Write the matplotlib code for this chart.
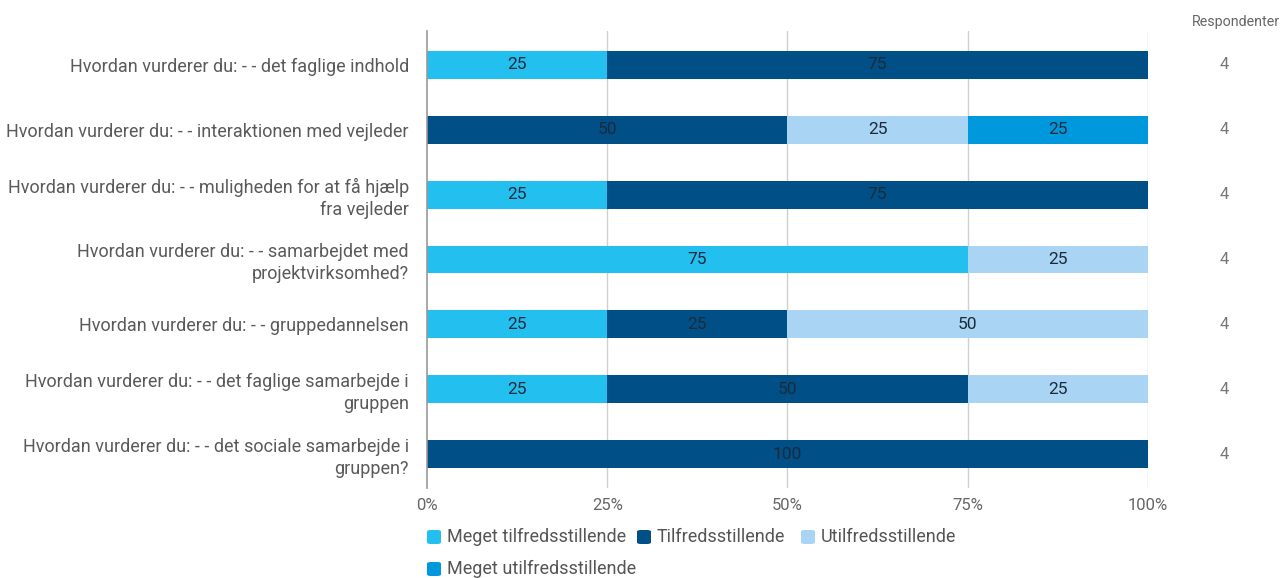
import matplotlib
matplotlib.use("Agg")
import matplotlib.pyplot as plt
from matplotlib.patches import FancyBboxPatch
import matplotlib.transforms as mtransforms
import numpy as np

plt.rcParams['font.family'] = ['Roboto', 'DejaVu Sans']

categories = [
    "Hvordan vurderer du: - - det faglige indhold",
    "Hvordan vurderer du: - - interaktionen med vejleder",
    "Hvordan vurderer du: - - muligheden for at få hjælp\nfra vejleder",
    "Hvordan vurderer du: - - samarbejdet med\nprojektvirksomhed?",
    "Hvordan vurderer du: - - gruppedannelsen",
    "Hvordan vurderer du: - - det faglige samarbejde i\ngruppen",
    "Hvordan vurderer du: - - det sociale samarbejde i\ngruppen?",
]
series_names = ["Meget tilfredsstillende", "Tilfredsstillende",
                "Utilfredsstillende", "Meget utilfredsstillende"]
meget_tilfreds = [25, 0, 25, 75, 25, 25, 0]
tilfreds = [75, 50, 75, 0, 25, 50, 100]
utilfreds = [0, 25, 0, 25, 50, 25, 0]
meget_utilfreds = [0, 25, 0, 0, 0, 0, 0]
respondents = [4, 4, 4, 4, 4, 4, 4]
xticks = [0, 25, 50, 75, 100]
xtick_labels = ["0%", "25%", "50%", "75%", "100%"]
colors = ["#22BFEF", "#004F86", "#A9D4F3", "#0098DC"]

W, H = 1282, 578
fig = plt.figure(figsize=(W / 100, H / 100), dpi=100)
ax = fig.add_axes([427 / W, 1 - 488 / H, (1148 - 427) / W, (488 - 31) / H])

series = [meget_tilfreds, tilfreds, utilfreds, meget_utilfreds]
y = np.arange(len(categories))
left = np.zeros(len(categories))
for vals, col, name in zip(series, colors, series_names):
    vals = np.array(vals, dtype=float)
    bars = ax.barh(y, vals, left=left, height=0.43, color=col, label=name, zorder=2)
    for b, v in zip(bars, vals):
        if v > 0:
            ax.text(b.get_x() + b.get_width() / 2, b.get_y() + b.get_height() / 2,
                    f"{int(v)}", ha="center", va="center", fontsize=12.5,
                    color="#1b2b3b", zorder=3)
    left += vals

ax.set_xlim(0, 100)
ax.set_ylim(len(categories) - 0.48, -0.52)
ax.set_xticks(xticks)
ax.set_xticklabels(xtick_labels, fontsize=12, color="#666666")
ax.set_yticks(y)
ax.set_yticklabels(categories, fontsize=13, color="#5a5a5a", linespacing=1.25)
ax.tick_params(axis="both", length=0)
ax.tick_params(axis="y", pad=13)
ax.tick_params(axis="x", pad=7)
for s in ["top", "right", "bottom"]:
    ax.spines[s].set_visible(False)
ax.spines["left"].set_color("#999999")
ax.spines["left"].set_linewidth(1.2)
ax.spines["left"].set_zorder(4)
for xv in xticks[1:]:
    ax.axvline(xv, color="#d0d0d0", linewidth=1, zorder=1)

# Respondenter column
trans = mtransforms.blended_transform_factory(fig.transFigure, ax.transData)
for yi, r in zip(y, respondents):
    ax.text(1224 / W, yi, str(r), transform=trans, ha="center", va="center",
            fontsize=12, color="#777777")
fig.text(1280 / W, 1 - 22 / H, "Respondenter", ha="right", va="center",
         fontsize=10.3, color="#666666")

# Legend (manual, wrapping like the reference)
legend_pos = [(427, 537), (637, 537), (801, 537), (427, 569)]
for (px, py), col, name in zip(legend_pos, colors, series_names):
    sq = 14
    p = FancyBboxPatch((px / W, 1 - (py + sq / 2) / H), sq / W, sq / H,
                       boxstyle="round,pad=0,rounding_size=0.003",
                       transform=fig.transFigure, facecolor=col, edgecolor="none")
    fig.add_artist(p)
    fig.text((px + 20) / W, 1 - py / H, name, ha="left", va="center",
             fontsize=13, color="#555555")

fig.savefig("out.png", dpi=100)
